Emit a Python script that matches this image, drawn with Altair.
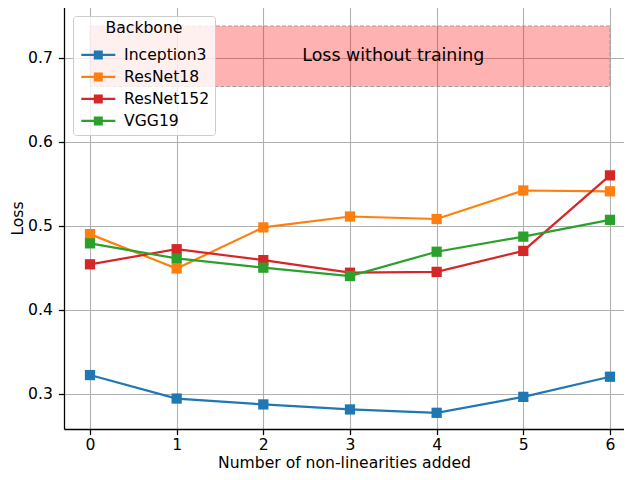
import altair as alt
import pandas as pd

# ---- data ----
steps = [0, 1, 2, 3, 4, 5, 6]
backbones = ["Inception3", "ResNet18", "ResNet152", "VGG19"]
colors = ["#1f77b4", "#ff7f0e", "#d62728", "#2ca02c"]
inception3 = [0.322, 0.294, 0.287, 0.281, 0.277, 0.296, 0.320]
resnet18 = [0.490, 0.449, 0.498, 0.511, 0.508, 0.542, 0.541]
resnet152 = [0.454, 0.472, 0.459, 0.444, 0.445, 0.470, 0.560]
vgg19 = [0.479, 0.461, 0.450, 0.440, 0.469, 0.487, 0.507]
band_x = [0, 6]
band_y = [0.666, 0.738]
band_label = "Loss without training"
band_label_pos = [3.5, 0.702]
y_ticks = [0.3, 0.4, 0.5, 0.6, 0.7]

series = dict(zip(backbones, [inception3, resnet18, resnet152, vgg19]))
rows = []
for b in backbones:
    for s, v in zip(steps, series[b]):
        rows.append({"step": s, "loss": v, "Backbone": b})
df = pd.DataFrame(rows)

band_df = pd.DataFrame({"step": [band_x[0]], "step2": [band_x[1]],
                        "loss": [band_y[0]], "loss2": [band_y[1]]})
text_df = pd.DataFrame({"step": [band_label_pos[0]], "loss": [band_label_pos[1]],
                        "t": [band_label]})

FONT = "DejaVu Sans"
FS = 15.6
W, H = 560, 422

x_scale = alt.Scale(domain=[-0.3, 6.162], nice=False, zero=False)
y_scale = alt.Scale(domain=[0.2577, 0.7607], nice=False, zero=False)

x_axis = alt.Axis(values=steps, format="d", title="Number of non-linearities added",
                  labelPadding=3, titlePadding=2, labelFlush=False)
y_axis = alt.Axis(values=y_ticks, format=".1f", title="Loss",
                  labelPadding=6, titlePadding=2, labelFlush=False)
x_enc = alt.X("step:Q", scale=x_scale, axis=x_axis)
y_enc = alt.Y("loss:Q", scale=y_scale, axis=y_axis)

sym_path = ("M-1,-1L1,-1L1,1L-1,1Z "
            "M-3.78,-0.24L3.78,-0.24L3.78,0.24L-3.78,0.24Z")

legend = alt.Legend(
    orient="none", legendX=9, legendY=9, title="Backbone",
    titleAnchor="middle", titleAlign="center", titleFont=FONT, titleFontSize=FS,
    titleFontWeight="normal",
    titleColor="black", labelFont=FONT, labelFontSize=FS, labelColor="black",
    fillColor="rgba(255,255,255,0.8)", strokeColor="#cccccc", cornerRadius=3,
    padding=5, symbolType=sym_path, symbolSize=81, symbolStrokeWidth=0,
    symbolOffset=12.5, labelOffset=18, rowPadding=5, titlePadding=10.5,
    symbolOpacity=1,
)
color_enc = alt.Color("Backbone:N",
                      scale=alt.Scale(domain=backbones, range=colors),
                      legend=legend)

band = alt.Chart(band_df).mark_rect(
    fill="#ff0000", fillOpacity=0.3, stroke="#a0a0a0", strokeDash=[4, 2],
    strokeWidth=1.1
).encode(x=x_enc, x2="step2:Q", y=y_enc, y2="loss2:Q")

label = alt.Chart(text_df).mark_text(
    font=FONT, fontSize=17.4, color="black", align="center", baseline="middle"
).encode(x=x_enc, y=y_enc, text="t:N")

layers = [band, label]
for b in backbones:
    base = alt.Chart(df).transform_filter(alt.datum.Backbone == b)
    layers.append(base.mark_line(strokeWidth=2.2).encode(x=x_enc, y=y_enc, color=color_enc))
    layers.append(base.mark_point(shape="square", filled=True, size=105, opacity=1)
                  .encode(x=x_enc, y=y_enc, color=color_enc))

top_spine = alt.Chart(band_df).mark_rule(color="black", strokeWidth=1.28).encode(
    x=alt.value(0), x2=alt.value(W), y=alt.value(0))
layers.append(top_spine)

chart = alt.layer(*layers).properties(
    width=W, height=H,
    autosize=alt.AutoSizeParams(type="none"),
    padding={"left": 56, "top": -1, "right": 0, "bottom": 43},
).configure_view(stroke=None).configure_axis(
    labelFont=FONT, titleFont=FONT, labelFontSize=FS, titleFontSize=FS,
    titleFontWeight="normal", labelColor="black", titleColor="black",
    gridColor="#b0b0b0", gridWidth=1.1, domainColor="black", domainWidth=1.28,
    tickColor="black", tickWidth=1.28, tickSize=5.6, labelOverlap=False,
)

chart.save("out.html", embed_options={"renderer": "svg", "actions": False})
